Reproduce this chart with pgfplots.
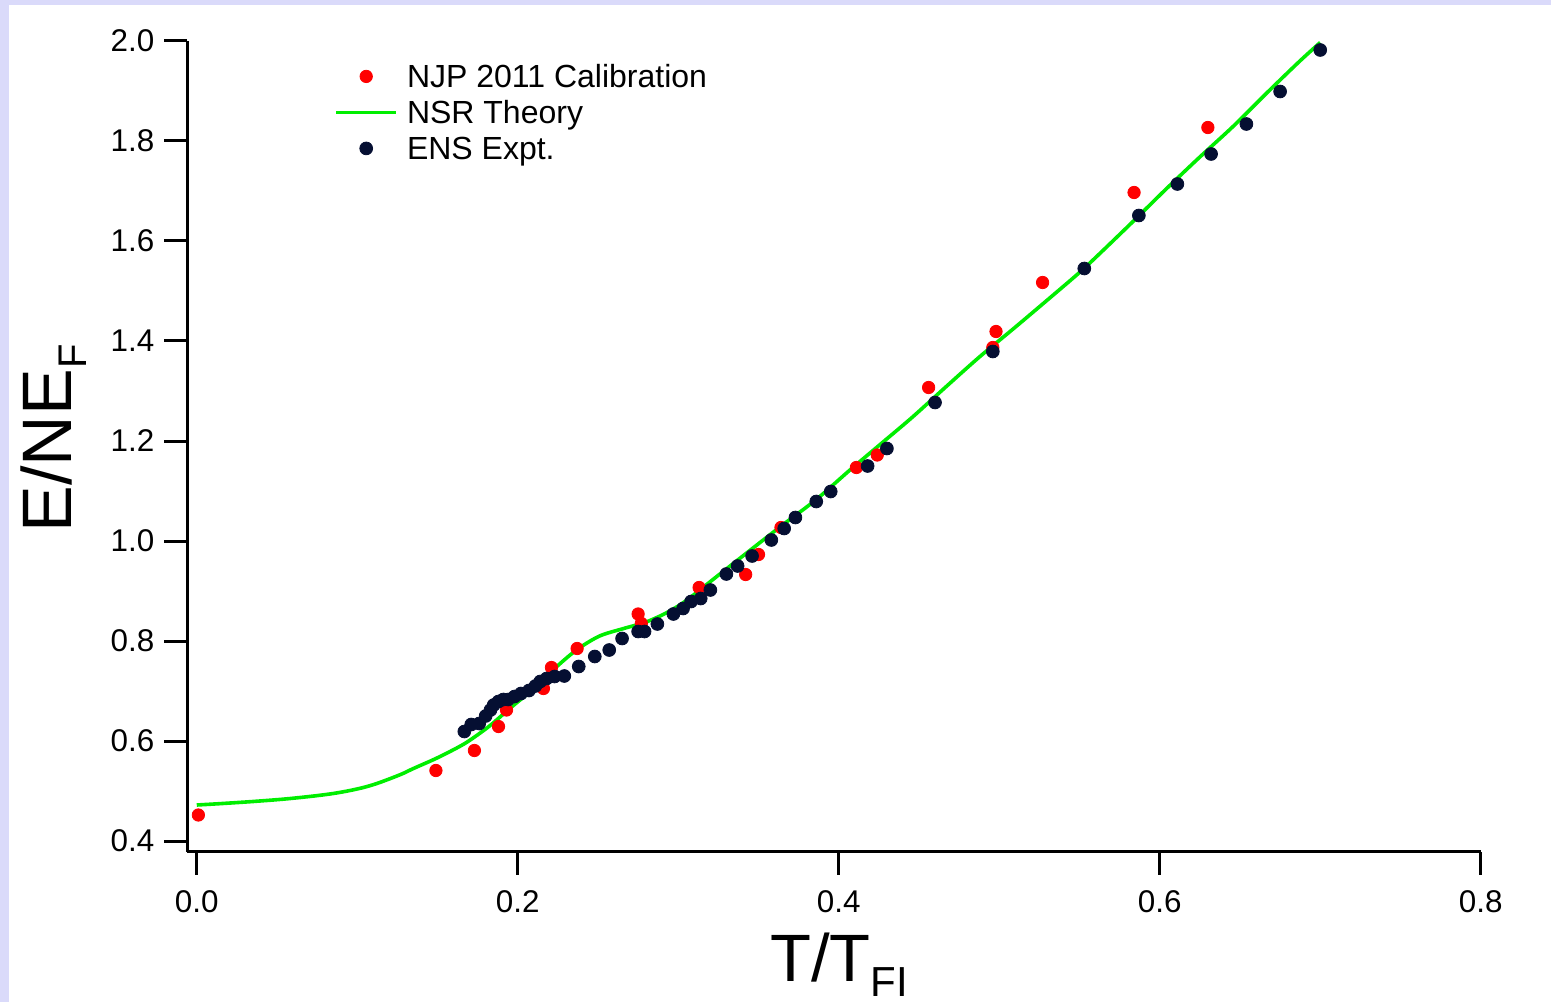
\documentclass[border=0pt]{standalone}
\usepackage{fontspec}
\setmainfont{Liberation Sans}
\usepackage{pgfplots}
\pgfplotsset{compat=1.18}
\definecolor{lav}{RGB}{218,218,250}
\definecolor{njp}{RGB}{255,0,0}
\definecolor{nsr}{RGB}{0,238,0}
\definecolor{ens}{RGB}{5,15,50}
\begin{document}
\begin{tikzpicture}
\fill[lav] (0,0) rectangle (775.5pt,501pt);
\fill[white] (4.5pt,0) rectangle (775.5pt,498.5pt);
\useasboundingbox (0,0) rectangle (775.5pt,501pt);
\begin{axis}[
  at={(93.65pt,75.15pt)}, anchor=south west,
  scale only axis, width=646.7pt, height=405.35pt,
  xmin=-0.0059, xmax=0.8, ymin=0.3786, ymax=2.0,
  axis lines=left,
  axis line style={-, line width=1.5pt, black},
  tick align=outside,
  major tick length=11.5pt,
  major tick style={line width=1.5pt, black},
  xtick={0,0.2,0.4,0.6,0.8},
  ytick={0.4,0.6,0.8,1.0,1.2,1.4,1.6,1.8,2.0},
  /pgf/number format/fixed,
  /pgf/number format/fixed zerofill,
  /pgf/number format/precision=1,
  /pgf/number format/assume math mode=true,
  tick label style={font=\fontsize{15.7}{18}\selectfont, text=black},
  yticklabel style={xshift=-1.5pt},
  xticklabel style={yshift=-4.6pt},
  xlabel={T/T\raisebox{-7.8pt}{\fontsize{21}{21}\selectfont FI}},
  ylabel={E/NE\raisebox{-7.5pt}{\fontsize{20}{20}\selectfont F}},
  xlabel style={font=\fontsize{33.5}{36}\selectfont, at={(axis description cs:0.5039,-0.1595)}, anchor=base},
  ylabel style={font=\fontsize{35}{38}\selectfont, at={(axis description cs:-0.0894,0.510)}, anchor=base},
  legend cell align=left,
  legend style={draw=none, fill=none, at={(axis description cs:0.1088,0.979)}, anchor=north west,
    font=\fontsize{16}{18}\selectfont, column sep=3.5pt, row sep=1.0pt,
    nodes={inner sep=1pt, text height=11.5pt, text depth=3.5pt}},
  legend image code/.code={\draw[mark repeat=2,mark phase=2,#1] plot coordinates {(0pt,1.5pt) (15pt,1.5pt) (30pt,1.5pt)};},
]
\addplot[only marks, mark=*, mark size=3.1pt, color=njp] table {
0.001 0.452
0.149 0.541
0.173 0.581
0.188 0.629
0.193 0.662
0.216 0.705
0.221 0.747
0.237 0.785
0.275 0.854
0.277 0.835
0.313 0.907
0.342 0.933
0.350 0.973
0.364 1.027
0.411 1.147
0.424 1.172
0.456 1.307
0.496 1.387
0.498 1.419
0.527 1.517
0.584 1.697
0.630 1.827
};
\addlegendentry{NJP 2011 Calibration}
\addplot[no markers, smooth, color=nsr, line width=1.8pt] table {
0.000 0.472
0.016 0.475
0.035 0.479
0.055 0.484
0.073 0.490
0.085 0.495
0.0955 0.501
0.105 0.508
0.114 0.517
0.127 0.533
0.135 0.545
0.147 0.562
0.156 0.576
0.168 0.597
0.182 0.629
0.195 0.665
0.210 0.705
0.224 0.748
0.237 0.783
0.251 0.810
0.266 0.825
0.280 0.838
0.293 0.857
0.305 0.881
0.324 0.929
0.345 0.982
0.365 1.032
0.386 1.083
0.407 1.142
0.428 1.199
0.446 1.248
0.467 1.309
0.488 1.369
0.509 1.425
0.530 1.482
0.550 1.537
0.563 1.576
0.584 1.641
0.604 1.704
0.625 1.768
0.646 1.830
0.667 1.897
0.687 1.959
0.700 1.997
};
\addlegendentry{NSR Theory}
\addplot[only marks, mark=*, mark size=3.2pt, color=ens] table {
0.1667 0.619
0.171 0.633
0.176 0.635
0.180 0.650
0.183 0.662
0.185 0.672
0.188 0.679
0.191 0.683
0.194 0.683
0.198 0.689
0.202 0.695
0.207 0.701
0.211 0.710
0.214 0.719
0.218 0.725
0.223 0.729
0.229 0.730
0.238 0.749
0.248 0.769
0.257 0.782
0.265 0.805
0.275 0.819
0.279 0.819
0.287 0.834
0.297 0.854
0.303 0.865
0.308 0.879
0.314 0.885
0.320 0.902
0.330 0.934
0.337 0.950
0.346 0.970
0.358 1.002
0.366 1.025
0.373 1.047
0.386 1.079
0.395 1.099
0.418 1.150
0.430 1.185
0.460 1.277
0.496 1.379
0.553 1.545
0.587 1.651
0.611 1.714
0.632 1.774
0.654 1.834
0.675 1.899
0.700 1.982
};
\addlegendentry{ENS Expt.}
\end{axis}
\end{tikzpicture}
\end{document}
